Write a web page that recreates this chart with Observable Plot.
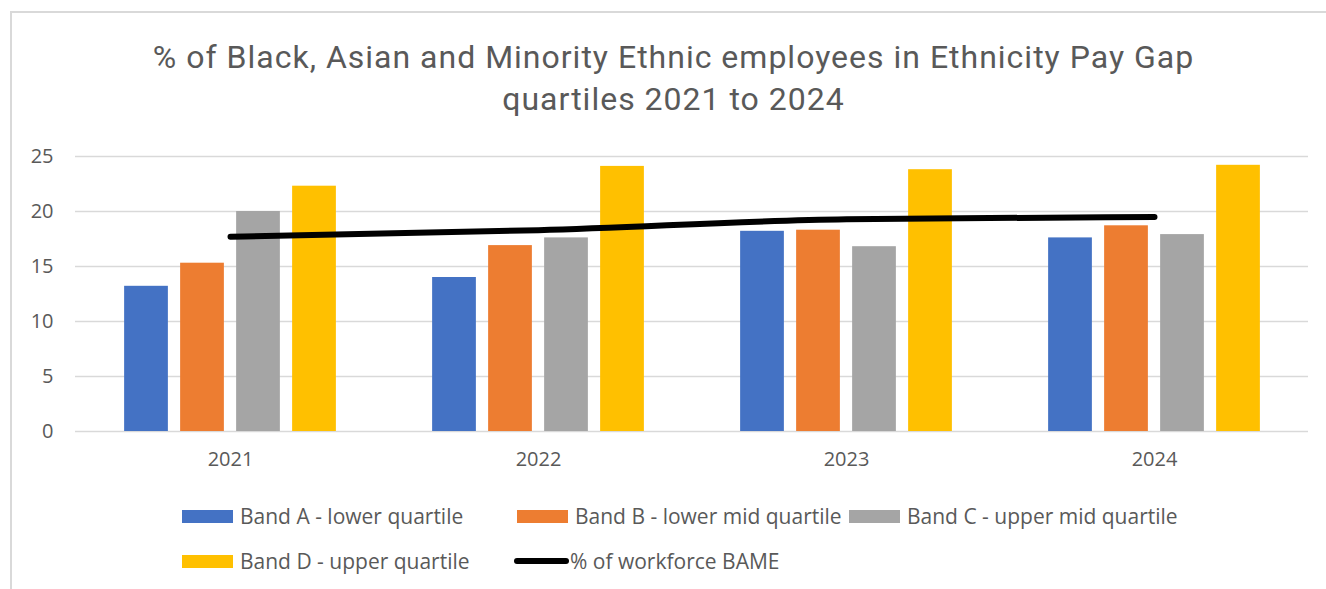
<!DOCTYPE html>
<html><head><meta charset="utf-8">
<script src="https://cdn.jsdelivr.net/npm/d3@7"></script>
<script src="https://cdn.jsdelivr.net/npm/@observablehq/plot@0.6"></script>
<style>
html,body{margin:0;padding:0;background:#fff;}
#wrap{position:relative;width:1326px;height:589px;overflow:hidden;font-family:"Open Sans",sans-serif;color:#595959;}
#frame{position:absolute;left:10px;top:11px;width:1400px;height:700px;border-left:2px solid #d9d9d9;border-top:2px solid #d9d9d9;}
#title{position:absolute;left:0;width:1347px;top:36px;text-align:center;font-family:Roboto,sans-serif;font-size:32px;letter-spacing:1px;line-height:42px;color:#595959;}
#chart{position:absolute;left:0;top:130px;}
.leg{position:absolute;display:flex;align-items:center;font-size:21px;white-space:nowrap;height:26px;}
.sw{width:51px;height:13px;margin-right:7px;}
.ln{width:55px;height:6px;border-radius:3px;background:#000;margin-right:1px;}
</style></head>
<body>
<div id="wrap">
  <div id="frame"></div>
  <div id="title">% of Black, Asian and Minority Ethnic employees in Ethnicity Pay Gap<br>quartiles 2021 to 2024</div>
  <div id="chart"></div>
  <div id="legend"></div>
</div>
<script>
const years = ["2021", "2022", "2023", "2024"];
const bandA = [13.2, 14.0, 18.2, 17.6];
const bandB = [15.3, 16.9, 18.3, 18.7];
const bandC = [20.0, 17.6, 16.8, 17.9];
const bandD = [22.3, 24.1, 23.8, 24.2];
const workforceBAME = [17.7, 18.3, 19.3, 19.5];
const seriesNames = ["Band A - lower quartile", "Band B - lower mid quartile", "Band C - upper mid quartile", "Band D - upper quartile"];
const lineName = "% of workforce BAME";
const colors = ["#4472c4", "#ed7d31", "#a5a5a5", "#ffc000"];
const yTicks = [0, 5, 10, 15, 20, 25];

const series = [bandA, bandB, bandC, bandD];
const W = 1326, H = 360, mL = 75, mR = 18, mT = 26, mB = 59;
const bw = (W - mL - mR) / years.length;
const barW = 44, step = 56;
const inset = (bw - barW) / 2;

const marks = [Plot.ruleY(yTicks, {stroke: "#d9d9d9", strokeWidth: 1.5})];
series.forEach((vals, i) => {
  const data = years.map((yr, j) => ({year: yr, value: vals[j], band: seriesNames[i]}));
  marks.push(Plot.barY(data, {x: "year", y: "value", fill: colors[i], dx: (i - 1.5) * step, insetLeft: inset, insetRight: inset}));
});
const lineData = years.map((yr, j) => ({year: yr, value: workforceBAME[j]}));
marks.push(Plot.line(lineData, {x: "year", y: "value", stroke: "#000", strokeWidth: 6, strokeLinecap: "round", curve: "monotone-x"}));

const chart = Plot.plot({
  width: W, height: H,
  marginLeft: mL, marginRight: mR, marginTop: mT, marginBottom: mB,
  style: {fontFamily: "'Open Sans', sans-serif", fontSize: "20px", color: "#595959", background: "transparent"},
  x: {type: "band", domain: years, paddingInner: 0, paddingOuter: 0, label: null, tickSize: 0, tickPadding: 20},
  y: {domain: [0, 25], ticks: yTicks, label: null, tickSize: 0, tickPadding: 22},
  marks
});
document.getElementById("chart").appendChild(chart);

const legend = document.getElementById("legend");
const legItems = [
  {name: seriesNames[0], color: colors[0], left: 182, cy: 516},
  {name: seriesNames[1], color: colors[1], left: 517, cy: 516},
  {name: seriesNames[2], color: colors[2], left: 849, cy: 516},
  {name: seriesNames[3], color: colors[3], left: 182, cy: 561},
  {name: lineName, color: null, left: 514, cy: 561}
];
legItems.forEach(it => {
  const d = document.createElement("div");
  d.className = "leg";
  d.style.left = it.left + "px";
  d.style.top = (it.cy - 13) + "px";
  const s = document.createElement("div");
  if (it.color) { s.className = "sw"; s.style.background = it.color; } else { s.className = "ln"; }
  d.appendChild(s);
  const t = document.createElement("span");
  t.textContent = it.name;
  d.appendChild(t);
  legend.appendChild(d);
});
</script>
</body></html>
